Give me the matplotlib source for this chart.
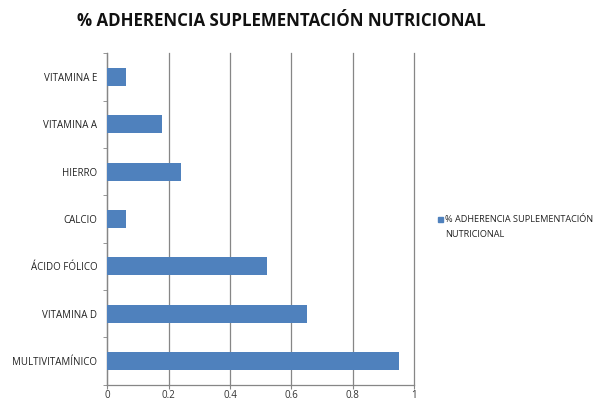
#! /usr/bin/env python
# -*- coding: utf-8 -*-

# Barras horizontales: % adherencia suplementacion nutricional

import numpy as np
import matplotlib
matplotlib.use('Agg')
import matplotlib.pyplot as plt
from matplotlib.patches import Rectangle

# datos (de abajo hacia arriba, como en Excel)
categorias = ['MULTIVITAMÍNICO', 'VITAMINA D', 'ÁCIDO FÓLICO', 'CALCIO',
              'HIERRO', 'VITAMINA A', 'VITAMINA E']
adherencia = [0.95, 0.65, 0.52, 0.06, 0.24, 0.18, 0.06]
xticks = [0, 0.2, 0.4, 0.6, 0.8, 1]
xlabels = ['0', '0.2', '0.4', '0.6', '0.8', '1']
titulo = '% ADHERENCIA SUPLEMENTACIÓN NUTRICIONAL'
serie = '% ADHERENCIA SUPLEMENTACIÓN\nNUTRICIONAL'

plt.rcParams['font.family'] = ['Open Sans', 'DejaVu Sans']

azul = '#4F81BD'
gris = '#868686'

fig = plt.figure(figsize=(6.02, 4.03), dpi=100)
ax = fig.add_axes([0.178, 0.045, 0.510, 0.823])

y = np.arange(len(categorias))
ax.barh(y, adherencia, height=0.38, color=azul, zorder=3)

ax.set_xlim(0, 1)
ax.set_ylim(-0.5, len(categorias) - 0.5)
ax.set_xticks(xticks)
ax.set_xticklabels(xlabels, fontsize=7, color='#333333')
ax.set_yticks(y)
ax.set_yticklabels(categorias, fontsize=7, color='#222222')
ax.set_yticks(np.arange(-0.5, len(categorias)), minor=True)

ax.grid(axis='x', color=gris, linewidth=0.9, zorder=0)
for gl in ax.get_xgridlines():
    gl.set_clip_on(False)
ax.tick_params(axis='y', which='major', length=0, pad=7)
ax.tick_params(axis='y', which='minor', length=3, color=gris)
ax.tick_params(axis='x', length=3, color=gris, pad=1)

for s in ['top', 'right']:
    ax.spines[s].set_visible(False)
for s in ['left', 'bottom']:
    ax.spines[s].set_color(gris)
    ax.spines[s].set_linewidth(0.9)

fig.text(0.468, 0.948, titulo, ha='center', va='center', fontsize=12.2,
         fontweight='bold', color='#111111')

# leyenda a mano
fig.add_artist(Rectangle((438/602, 1 - 222/403), 5/602, 5/403,
                         transform=fig.transFigure, color=azul))
fig.text(445/602, 1 - 215/403, serie, ha='left', va='top', fontsize=6.6,
         color='#222222', linespacing=1.8)

fig.savefig('out.png', dpi=100)
